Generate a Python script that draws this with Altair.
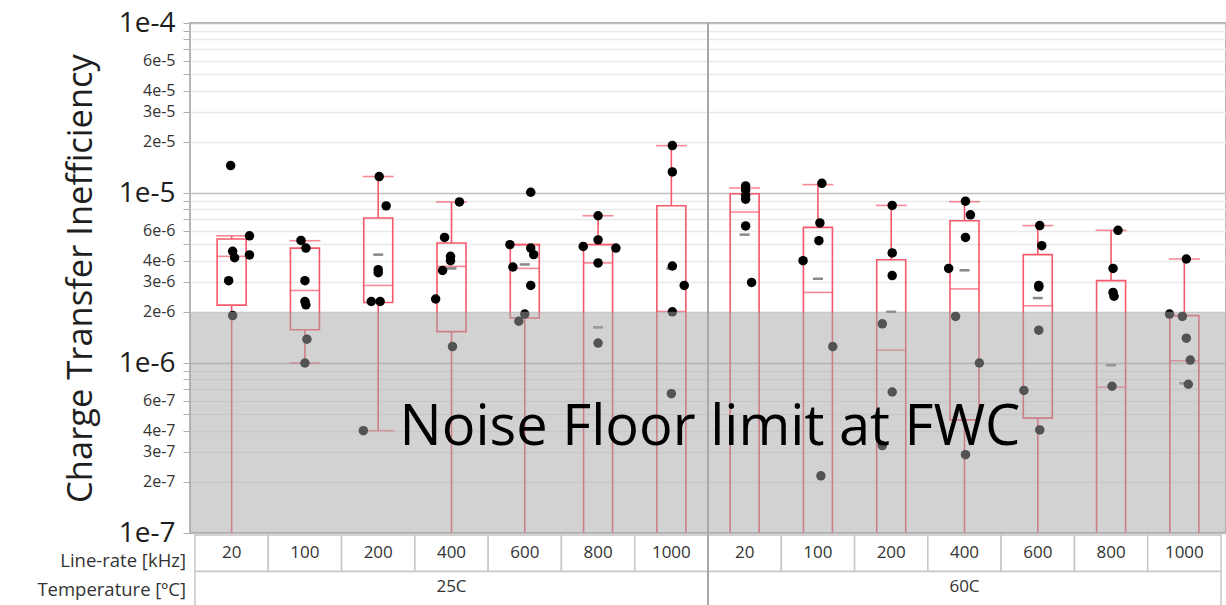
import altair as alt
import pandas as pd

# ---------------- data ----------------
temps = ["25C"] * 7 + ["60C"] * 7
rates = ["20", "100", "200", "400", "600", "800", "1000"] * 2

box_upper = [5.6e-6, 5.24e-6, 1.25e-5, 8.86e-6, 4.97e-6, 7.35e-6, 1.9e-5,
             1.07e-5, 1.12e-5, 8.45e-6, 8.89e-6, 6.43e-6, 6.03e-6, 4.09e-6]
box_q3 = [5.36e-6, 4.74e-6, 7.13e-6, 5.08e-6, 4.97e-6, 4.97e-6, 8.41e-6,
          9.9e-6, 6.28e-6, 4.05e-6, 6.87e-6, 4.34e-6, 3.05e-6, 1.9e-6]
box_median = [4.24e-6, 2.67e-6, 2.86e-6, 3.7e-6, 3.6e-6, 3.88e-6, 2.01e-6,
              7.73e-6, 2.6e-6, 1.19e-6, 2.73e-6, 2.17e-6, 7.2e-7, 1.03e-6]
box_q1 = [2.19e-6, 1.57e-6, 2.27e-6, 1.53e-6, 1.84e-6, 6e-8, 6e-8,
          6e-8, 6e-8, 6e-8, 4.63e-7, 4.74e-7, 6e-8, 6e-8]
box_lower = [5e-8, 1.0e-6, 4.0e-7, 5e-8, 5e-8, 5e-8, 5e-8,
             5e-8, 5e-8, 5e-8, 5e-8, 5e-8, 5e-8, 5e-8]
box_mean = [None, None, 4.34e-6, 3.6e-6, 3.8e-6, 1.62e-6, 3.6e-6,
            5.69e-6, 3.13e-6, 2.0e-6, 3.51e-6, 2.41e-6, 9.7e-7, 7.6e-7]

point_box = ([0] * 7 + [1] * 7 + [2] * 7 + [3] * 7 + [4] * 8 + [5] * 6 + [6] * 6
             + [7] * 6 + [8] * 6 + [9] * 6 + [10] * 7 + [11] * 7 + [12] * 5 + [13] * 6)
point_value = [
    1.45e-5, 5.6e-6, 4.54e-6, 4.16e-6, 4.32e-6, 3.05e-6, 1.9e-6,
    5.26e-6, 4.74e-6, 3.05e-6, 2.3e-6, 2.2e-6, 1.38e-6, 1.0e-6,
    1.25e-5, 8.4e-6, 3.54e-6, 3.4e-6, 2.3e-6, 2.3e-6, 4.0e-7,
    8.86e-6, 5.48e-6, 4.24e-6, 4.0e-6, 3.5e-6, 2.38e-6, 1.25e-6,
    1.01e-5, 4.97e-6, 4.74e-6, 4.34e-6, 3.67e-6, 2.86e-6, 1.76e-6, 1.94e-6,
    7.35e-6, 5.3e-6, 4.85e-6, 4.74e-6, 3.88e-6, 1.31e-6,
    1.9e-5, 1.33e-5, 3.72e-6, 2.86e-6, 2.0e-6, 6.6e-7,
    1.1e-5, 1.04e-5, 9.7e-6, 9.2e-6, 6.4e-6, 2.98e-6,
    1.14e-5, 6.67e-6, 5.24e-6, 4.0e-6, 1.25e-6, 2.17e-7,
    8.45e-6, 4.44e-6, 3.27e-6, 1.7e-6, 6.75e-7, 3.27e-7,
    8.95e-6, 7.44e-6, 5.48e-6, 3.6e-6, 1.88e-6, 1.0e-6, 2.89e-7,
    6.43e-6, 4.9e-6, 2.86e-6, 2.8e-6, 1.56e-6, 6.9e-7, 4.04e-7,
    6.03e-6, 3.6e-6, 2.6e-6, 2.47e-6, 7.3e-7,
    4.09e-6, 1.94e-6, 1.88e-6, 1.4e-6, 1.04e-6, 7.5e-7,
]
# horizontal jitter of each point, in pixels (layout only)
point_jitter_px = [
    -1, 18, 1, 3, 18, -3, 1,
    -4, 1, 0, 0, 1, 2, 0,
    1, 8, 0, 0, -7, 2, -15,
    8, -7, -1, -1, -9, -16, 1,
    6, -15, 6, 9, -12, 6, -6, 0,
    0, 0, -15, 18, 0, 0,
    1, 1, 1, 13, 1, 0,
    1, 1, 1, 1, 1, 7,
    4, 2, 1, -15, 15, 3,
    1, 1, 1, -9, 1, -9,
    1, 6, 1, -16, -9, 15, 1,
    2, 4, 1, 1, 1, -14, 2,
    7, 2, 2, 3, 1,
    2, -15, -2, 2, 6, 4,
]

noise_floor = 2e-6
y_min, y_max = 1e-7, 1e-4
noise_label = "Noise Floor limit at FWC"
y_title = "Charge Transfer Inefficiency"
row1_label = "Line-rate [kHz]"
row2_label = "Temperature [ºC]"

# ---------------- styling ----------------
W, H = 1036, 510
COL = W / 14.0
RED = "#f5586a"
FONT = "Open Sans"
BOXW = 29

boxes = pd.DataFrame({
    "idx": list(range(14)), "temp": temps, "rate": rates,
    "lower": box_lower, "q1": box_q1, "median": box_median,
    "q3": box_q3, "upper": box_upper, "mean": box_mean,
})
points = pd.DataFrame({"box": point_box, "value": point_value, "jit": point_jitter_px})
shade_df = pd.DataFrame({"top": [noise_floor], "bottom": [y_min]})
one = pd.DataFrame({"a": [0]})

xs = alt.Scale(domain=[-0.5, 13.5], nice=False, zero=False)
ys = alt.Scale(type="log", domain=[y_min, y_max], nice=False)

tick_vals = [m * 10.0 ** e for e in (-7, -6, -5) for m in range(1, 10)] + [1e-4]
EXP = "floor(log(datum.value)/LN10 + 1e-6)"
MANT = f"round(datum.value / pow(10, {EXP}))"
IS_DEC = f"{MANT} == 1"

yaxis = alt.Axis(
    values=tick_vals,
    labelExpr=f"indexof([1,2,3,4,6], {MANT}) >= 0 ? {MANT} + 'e' + {EXP} : ''",
    labelFont=FONT,
    labelFontSize={"condition": {"test": IS_DEC, "value": 28}, "value": 16},
    labelColor={"condition": {"test": IS_DEC, "value": "#1e1e1e"}, "value": "#333333"},
    labelPadding=8,
    labelBaseline="middle",
    labelOverlap=False,
    tickColor="#b0b0b0",
    tickSize=7,
    domain=False,
    gridColor={"condition": {"test": IS_DEC, "value": "#c0c0c0"}, "value": "#e9e9e9"},
    gridWidth=1.3,
    title=y_title,
    titleFont=FONT,
    titleFontSize=34.5,
    titleFontWeight="normal",
    titleColor="#1e1e1e",
    titleAngle=-90,
    titleX=-99,
    titleY=255,
    titleAlign="center",
    titleBaseline="alphabetic",
)

base = alt.Chart(boxes)
X = alt.X("idx:Q", scale=xs, axis=None)

grid_layer = base.mark_point(opacity=0).encode(x=X, y=alt.Y("median:Q", scale=ys, axis=yaxis))

whisk_lo = base.mark_rule(color=RED, strokeWidth=1.6, clip=True).encode(
    x=X, y=alt.Y("lower:Q", scale=ys), y2="q1:Q")
whisk_hi = base.mark_rule(color=RED, strokeWidth=1.6, clip=True).encode(
    x=X, y=alt.Y("q3:Q", scale=ys), y2="upper:Q")
box = base.mark_bar(size=BOXW, fillOpacity=0, stroke=RED, strokeWidth=1.6, clip=True).encode(
    x=X, y=alt.Y("q1:Q", scale=ys), y2="q3:Q")
med = base.mark_tick(orient="horizontal", size=BOXW, thickness=1.6, color=RED, clip=True).encode(
    x=X, y=alt.Y("median:Q", scale=ys))
cap_hi = base.mark_tick(orient="horizontal", size=BOXW + 2, thickness=1.6, color=RED, clip=True).encode(
    x=X, y=alt.Y("upper:Q", scale=ys))
cap_lo = base.mark_tick(orient="horizontal", size=BOXW + 2, thickness=1.6, color=RED, clip=True).encode(
    x=X, y=alt.Y("lower:Q", scale=ys))
mean = base.mark_tick(orient="horizontal", size=10, thickness=2.5, color="#555555", clip=True).encode(
    x=X, y=alt.Y("mean:Q", scale=ys))

pts = alt.Chart(points).transform_calculate(
    xj=f"datum.box + datum.jit / {COL}"
).mark_circle(size=90, color="black", opacity=1).encode(
    x=alt.X("xj:Q", scale=xs, axis=None), y=alt.Y("value:Q", scale=ys))

shade = alt.Chart(shade_df).mark_rect(color="#a6a6a6", opacity=0.5).encode(
    x=alt.value(0), x2=alt.value(W), y=alt.Y("top:Q", scale=ys), y2="bottom:Q")

noise_txt = alt.Chart(one).mark_text(
    font=FONT, fontSize=56, color="black", align="center", baseline="alphabetic"
).encode(x=alt.value(520), y=alt.value(422), text=alt.value(noise_label))

divider = alt.Chart(one).mark_rule(color="#a8a8a8", strokeWidth=2, clip=False).encode(
    x=alt.value(W / 2.0), y=alt.value(0), y2=alt.value(590))

# bottom table
cells1 = base.transform_calculate(x0="datum.idx - 0.5", x1="datum.idx + 0.5").mark_rect(
    fill="white", stroke="#c6c6c6", strokeWidth=1.5, clip=False
).encode(x=alt.X("x0:Q", scale=xs, axis=None), x2="x1:Q", y=alt.value(512), y2=alt.value(548.5))
text1 = base.mark_text(font=FONT, fontSize=17, color="#333333", baseline="middle", clip=False).encode(
    x=X, y=alt.value(530), text="rate:N")

cells2 = base.transform_aggregate(
    lo="min(idx)", hi="max(idx)", groupby=["temp"]
).transform_calculate(x0="datum.lo - 0.5", x1="datum.hi + 0.5").mark_rect(
    fill="white", stroke="#c6c6c6", strokeWidth=1.5, clip=False
).encode(x=alt.X("x0:Q", scale=xs, axis=None), x2="x1:Q", y=alt.value(548.5), y2=alt.value(600))
text2 = base.transform_aggregate(
    c="mean(idx)", groupby=["temp"]
).mark_text(font=FONT, fontSize=17, color="#333333", baseline="middle", clip=False).encode(
    x=alt.X("c:Q", scale=xs, axis=None), y=alt.value(564), text="temp:N")

lab1 = alt.Chart(one).mark_text(font=FONT, fontSize=18.5, color="#333333", align="right",
                                baseline="middle").encode(
    x=alt.value(-4), y=alt.value(538), text=alt.value(row1_label))
lab2 = alt.Chart(one).mark_text(font=FONT, fontSize=18.5, color="#333333", align="right",
                                baseline="middle").encode(
    x=alt.value(-4), y=alt.value(567), text=alt.value(row2_label))

chart = alt.layer(
    grid_layer, whisk_lo, whisk_hi, box, med, cap_hi, cap_lo, mean, pts,
    shade, noise_txt, cells1, cells2, divider, text1, text2, lab1, lab2,
).properties(
    width=W, height=H,
    autosize=alt.AutoSizeParams(type="none"),
    padding={"left": 190, "top": 23, "right": 0, "bottom": 72},
    background="white",
).configure_view(stroke="#b0b0b0", strokeWidth=1.8)

chart.save("out.html", embed_options={"renderer": "svg", "actions": False})
